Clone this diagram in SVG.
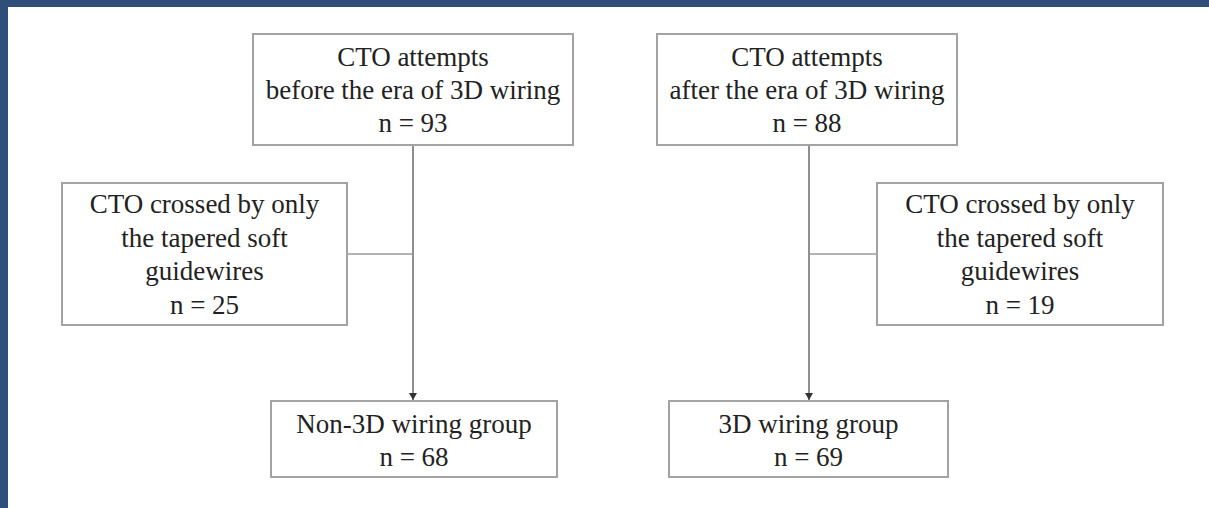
<svg xmlns="http://www.w3.org/2000/svg" width="1209" height="508" viewBox="0 0 1209 508">
  <defs>
    <style>
      .box { fill: #ffffff; stroke: #a3a3a3; stroke-width: 2; }
      .lbl { font-family: "Liberation Serif", "Times New Roman", serif; font-size: 27px; fill: #222222; text-anchor: middle; }
      .wire { fill: none; stroke: #6a6a6a; stroke-width: 1.5; }
      .branch { fill: none; stroke: #9a9a9a; stroke-width: 1.5; }
    </style>
    <marker id="arr" markerWidth="8" markerHeight="8" refX="7" refY="4" orient="auto" markerUnits="userSpaceOnUse">
      <path d="M0,0 L7,4 L0,8 Z" fill="#333333"/>
    </marker>
  </defs>
  <rect x="0" y="0" width="1209" height="508" fill="#ffffff"/>
  <rect x="0" y="0" width="1209" height="7" fill="#2f4e7a"/>
  <rect x="0" y="0" width="8" height="508" fill="#2f4e7a"/>

  <g id="connectors">
    <line class="wire" x1="413" y1="145" x2="413" y2="400" marker-end="url(#arr)"/>
    <line class="branch" x1="347" y1="254" x2="413" y2="254"/>
    <line class="wire" x1="809" y1="145" x2="809" y2="400" marker-end="url(#arr)"/>
    <line class="branch" x1="809" y1="254" x2="877" y2="254"/>
  </g>

  <g id="before">
    <rect class="box" x="253" y="34" width="320" height="111"/>
    <text class="lbl" x="413" y="66">CTO attempts</text>
    <text class="lbl" x="413" y="99">before the era of 3D wiring</text>
    <text class="lbl" x="413" y="132">n = 93</text>
  </g>

  <g id="after">
    <rect class="box" x="657" y="34" width="300" height="111"/>
    <text class="lbl" x="807" y="66">CTO attempts</text>
    <text class="lbl" x="807" y="99">after the era of 3D wiring</text>
    <text class="lbl" x="807" y="132">n = 88</text>
  </g>

  <g id="excluded-left">
    <rect class="box" x="62" y="183" width="285" height="142"/>
    <text class="lbl" x="204.5" y="213">CTO crossed by only</text>
    <text class="lbl" x="204.5" y="247">the tapered soft</text>
    <text class="lbl" x="204.5" y="280">guidewires</text>
    <text class="lbl" x="204.5" y="314">n = 25</text>
  </g>

  <g id="excluded-right">
    <rect class="box" x="877" y="183" width="286" height="142"/>
    <text class="lbl" x="1020" y="213">CTO crossed by only</text>
    <text class="lbl" x="1020" y="247">the tapered soft</text>
    <text class="lbl" x="1020" y="280">guidewires</text>
    <text class="lbl" x="1020" y="314">n = 19</text>
  </g>

  <g id="non3d">
    <rect class="box" x="271" y="401" width="286" height="76"/>
    <text class="lbl" x="414" y="433">Non-3D wiring group</text>
    <text class="lbl" x="414" y="466">n = 68</text>
  </g>

  <g id="group3d">
    <rect class="box" x="669" y="401" width="279" height="76"/>
    <text class="lbl" x="808.5" y="433">3D wiring group</text>
    <text class="lbl" x="808.5" y="466">n = 69</text>
  </g>
</svg>
